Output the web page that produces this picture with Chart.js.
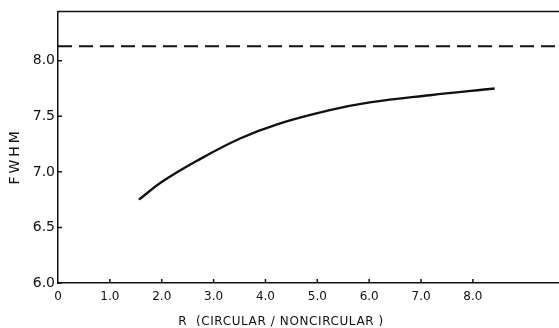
<!DOCTYPE html>
<html>
<head>
<meta charset="utf-8">
<script src="https://cdn.jsdelivr.net/npm/chart.js@4.4.1/dist/chart.umd.min.js"></script>
<style>
  html, body { margin: 0; padding: 0; background: #fff; }
  #box { width: 559px; height: 328px; }
</style>
</head>
<body>
<div id="box"><canvas id="fwhm_chart"></canvas></div>
<script>
// FWHM against R (circular / noncircular)
var rValues = [1.56, 2.02, 2.68, 3.51, 4.24, 5.24, 6.01, 7.17, 8.42];
var fwhmValues = [6.75, 6.915, 7.10, 7.30, 7.43, 7.555, 7.625, 7.69, 7.75];

// circular limit, dashed across the plot
var limitR = [0, 9.66];
var limitFwhm = [8.13, 8.13];

var xTicks = [0, 1, 2, 3, 4, 5, 6, 7, 8];
var yTicks = [6.0, 6.5, 7.0, 7.5, 8.0];

var xTitle = 'R  (CIRCULAR / NONCIRCULAR )';
var yTitle = 'FWHM';

var ink = '#111';

function toPoints(xs, ys) {
  return xs.map(function(x, i) { return { x: x, y: ys[i] }; });
}

// frame top, inward tick marks and both axis titles
var frame = {
  id: 'frame',
  afterDraw: function(chart) {
    var ctx = chart.ctx;
    var a = chart.chartArea;
    var xs = chart.scales.x;
    var ys = chart.scales.y;
    ctx.save();
    ctx.strokeStyle = ink;
    ctx.lineWidth = 1.5;
    ctx.beginPath();
    ctx.moveTo(a.left, a.top);
    ctx.lineTo(a.right, a.top);
    xTicks.forEach(function(v) {
      if (v === 0) return;
      var px = xs.getPixelForValue(v);
      ctx.moveTo(px, a.bottom);
      ctx.lineTo(px, a.bottom - 4);
    });
    yTicks.forEach(function(v) {
      var py = ys.getPixelForValue(v);
      ctx.moveTo(a.left, py);
      ctx.lineTo(a.left + 4, py);
    });
    ctx.stroke();

    ctx.fillStyle = ink;
    ctx.font = '12px "DejaVu Sans"';
    ctx.textAlign = 'center';
    ctx.textBaseline = 'middle';
    ctx.letterSpacing = '0.6px';
    ctx.fillText(xTitle, xs.getPixelForValue(4.3), 322);

    ctx.translate(15, ys.getPixelForValue(7.14));
    ctx.rotate(-Math.PI / 2);
    ctx.font = '14px "DejaVu Sans"';
    ctx.letterSpacing = '3px';
    ctx.fillText(yTitle, 0, 0);
    ctx.restore();
  }
};

new Chart(document.getElementById('fwhm_chart'), {
  type: 'line',
  data: {
    datasets: [{
      data: toPoints(rValues, fwhmValues),
      borderColor: ink,
      borderWidth: 2.4,
      pointRadius: 0,
      tension: 0.4,
      fill: false
    }, {
      data: toPoints(limitR, limitFwhm),
      borderColor: ink,
      borderWidth: 2,
      borderDash: [14, 7],
      pointRadius: 0,
      fill: false
    }]
  },
  options: {
    responsive: true,
    maintainAspectRatio: false,
    animation: false,
    layout: { padding: { top: 8, right: 0, left: 0, bottom: 0 } },
    plugins: {
      legend: { display: false },
      tooltip: { enabled: false }
    },
    scales: {
      x: {
        type: 'linear',
        min: 0,
        max: 9.66,
        afterBuildTicks: function(s) {
          s.ticks = xTicks.map(function(v) { return { value: v }; });
        },
        afterFit: function(s) { s.height = 45; },
        grid: { display: false, drawTicks: false },
        border: { display: true, color: ink, width: 1.5 },
        ticks: {
          color: ink,
          padding: 7,
          maxRotation: 0,
          font: { family: 'DejaVu Sans', size: 12 },
          callback: function(v) { return v === 0 ? '0' : v.toFixed(1); }
        }
      },
      y: {
        min: 6.0,
        max: 8.444,
        afterBuildTicks: function(s) {
          s.ticks = yTicks.map(function(v) { return { value: v }; });
        },
        afterFit: function(s) { s.width = 58; },
        grid: { display: false, drawTicks: false },
        border: { display: true, color: ink, width: 1.5 },
        ticks: {
          color: ink,
          padding: 3,
          font: { family: 'DejaVu Sans', size: 14 },
          callback: function(v) { return v.toFixed(1); }
        }
      }
    }
  },
  plugins: [frame]
});
</script>
</body>
</html>
